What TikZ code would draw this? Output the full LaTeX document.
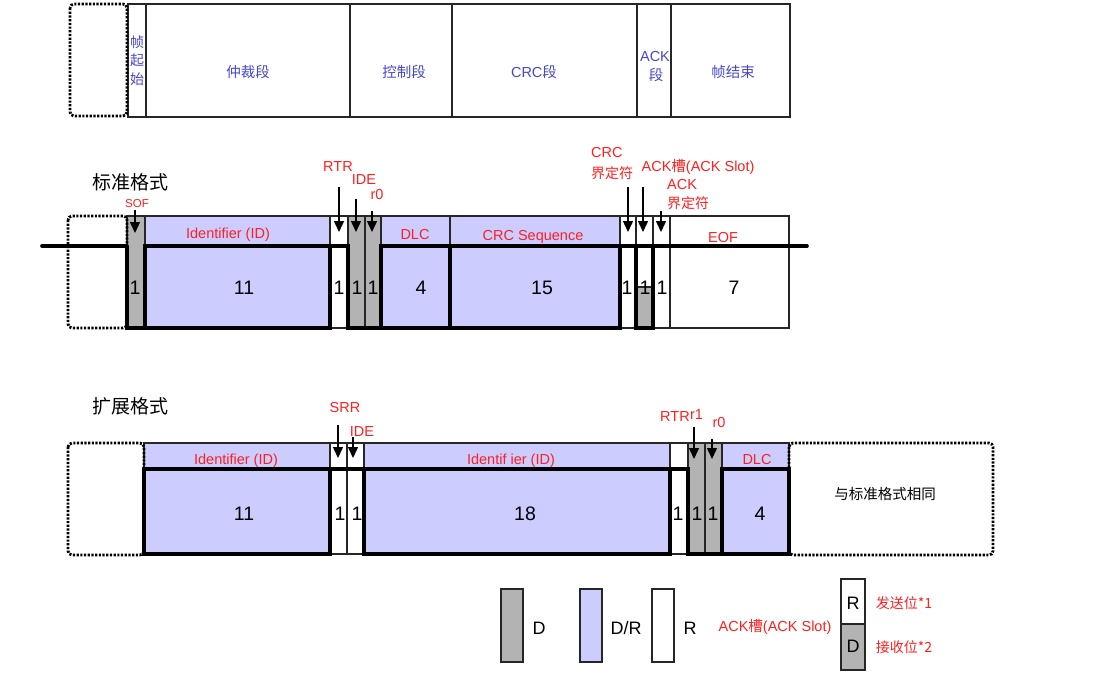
\documentclass[tikz,border=0pt]{standalone}
\usepackage{fontspec}
\setmainfont{Liberation Sans}
\newfontfamily\cjk{Noto Sans CJK SC}
\usetikzlibrary{arrows.meta}
\definecolor{dgray}{HTML}{B3B3B3}
\definecolor{lav}{HTML}{CCCCFF}
\definecolor{lbl}{HTML}{FF1F1F}
\definecolor{blu}{HTML}{4646C8}
\begin{document}
\begin{tikzpicture}[x=1pt,y=-1pt,
  thinb/.style={draw=black!85, line width=1.1pt},
  wave/.style={draw=black, line width=3.6pt, line join=miter},
  dashbox/.style={draw=black, line width=2.8pt, dash pattern=on 2.2pt off 1.5pt, rounded corners=4pt},
  darr/.style={draw=black, line width=1.4pt, -{Triangle[width=10pt,length=11pt]}},
  lab/.style={anchor=base, inner sep=0pt},
  redl/.style={lab, text=lbl, font=\fontsize{14.5}{16}\selectfont},
  reds/.style={lab, text=lbl, font=\fontsize{11.5}{13}\selectfont},
  bluel/.style={lab, text=blu, font=\cjk\fontsize{14.5}{17}\selectfont},
  bluelat/.style={lab, text=blu, font=\fontsize{14.5}{16}\selectfont},
  num/.style={lab, text=black, font=\fontsize{19.5}{21}\selectfont},
  ttl/.style={lab, text=black, font=\cjk\fontsize{19}{21}\selectfont},
]
\useasboundingbox (0,0) rectangle (1099,673);

% ---------------- top row ----------------
\draw[thinb] (128,4) rectangle (790,117);
\foreach \x in {146,350,452,637,671} \draw[thinb] (\x,4) -- (\x,117);
\draw[dashbox] (70,4) rectangle (127,116);
\node[bluel, font=\cjk\fontsize{14}{15}\selectfont] (t1a) at (137,47) {帧};
\node[bluel, font=\cjk\fontsize{14}{15}\selectfont] (t1b) at (137,65.5) {起};
\node[bluel, font=\cjk\fontsize{14}{15}\selectfont] (t1c) at (137,84) {始};
\node[bluel] (t2) at (248,77.5) {仲裁段};
\node[bluel] (t3) at (404,77.5) {控制段};
\node[bluel] (t4) at (534,77.5) {\fontspec{Liberation Sans}\fontsize{14.5}{16}\selectfont CRC\cjk 段};
\node[bluelat] (t5a) at (655,61) {ACK};
\node[bluel] (t5b) at (656,80.5) {段};
\node[bluel] (t6) at (733,77.5) {帧结束};

% ---------------- standard format ----------------
\node[ttl] (std) at (130,189) {标准格式};
\fill[dgray] (127,216) rectangle (145,328);
\fill[lav] (145,216) rectangle (330,328);
\fill[dgray] (348,216) rectangle (381,328);
\fill[lav] (381,216) rectangle (620,328);
\fill[dgray] (636,287) rectangle (653,328);
\draw[thinb] (127,216) rectangle (789,328);
\foreach \x in {145,330,348,365,381,450,620,636,653,670} \draw[thinb] (\x,216) -- (\x,328);
\draw[thinb] (636,287) -- (653,287);
\draw[dashbox] (68,216) rectangle (127,328);
\draw[wave, line cap=round] (42,246) -- (127,246);
\draw[wave] (127,246) -- (127,328) -- (145,328);
\draw[wave] (145,246) rectangle (330,328);
\draw[wave] (330,246) -- (348,246) -- (348,328) -- (381,328);
\draw[wave] (381,246) rectangle (450,328);
\draw[wave] (450,246) rectangle (620,328);
\draw[wave, line cap=round] (620,246) -- (807,246);
\draw[wave] (636,246) -- (636,328) -- (653,328) -- (653,246);

\node[reds] (sof) at (137,207) {SOF};
\node[redl] (rtr) at (338,171) {RTR};
\node[redl] (ide) at (364,184) {IDE};
\node[redl] (r0) at (377,199) {r0};
\node[redl] (idl) at (228,238) {Identifier (ID)};
\node[redl] (dlc) at (415,239) {DLC};
\node[redl] (crcs) at (533,240) {CRC Sequence};
\node[redl] (eof) at (723,242) {EOF};
\node[redl, anchor=base west] (crcd1) at (591,157) {CRC};
\node[redl, anchor=base west, font=\cjk\fontsize{14}{16}\selectfont] (crcd2) at (591,178.3) {界定符};
\node[redl] (acks) at (698,171) {ACK{\cjk 槽}(ACK Slot)};
\node[redl, anchor=base west] (ackd1) at (667,189) {ACK};
\node[redl, anchor=base west, font=\cjk\fontsize{14}{16}\selectfont] (ackd2) at (667,208.3) {界定符};

\foreach \n/\x/\ya/\yb in {sof/135/210/233, rtr/339/187/232, ide/356/199/232, rzero/372/211/232, crcd/628/187/232, acks/643/187/232, ackd/661/211/232}{
  \coordinate (\n A) at (\x,\ya); \coordinate (\n B) at (\x,\yb);
  \draw[darr] (\n A) -- (\n B);
}

\foreach \n/\x/\t in {s1/135/1, s2/244/11, s3/339/1, s4/357/1, s5/373/1, s6/421/4, s7/542/15, s8/627/1, s9/645/1, s10/662/1, s11/734/7}
  \node[num] (\n) at (\x,294) {\t};

% ---------------- extended format ----------------
\node[ttl] (ext) at (130,413) {扩展格式};
\fill[lav] (144,443) rectangle (330,554);
\fill[lav] (364,443) rectangle (670,554);
\fill[dgray] (688,443) rectangle (722,554);
\fill[lav] (722,443) rectangle (789,554);
\draw[thinb] (144,443) rectangle (789,554);
\foreach \x in {330,347,364,670,688,705,722} \draw[thinb] (\x,443) -- (\x,554);
\draw[dashbox] (68,443) rectangle (144,555);
\draw[dashbox] (789,443) rectangle (993,555);
\draw[wave] (144,469) rectangle (330,554);
\draw[wave] (330,469) -- (364,469);
\draw[wave] (364,469) rectangle (670,554);
\draw[wave] (670,469) -- (688,469) -- (688,554) -- (722,554);
\draw[wave] (722,469) rectangle (789,554);

\node[redl] (srr) at (345,412) {SRR};
\node[redl] (eide) at (362,436) {IDE};
\node[redl] (eidl1) at (236,464) {Identifier (ID)};
\node[redl] (eidl2) at (511,464) {Identif ier (ID)};
\node[redl] (ertr) at (675,421) {RTR};
\node[redl] (er1) at (696.5,419) {r1};
\node[redl] (er0) at (719,427) {r0};
\node[redl] (edlc) at (757,464) {DLC};
\node[lab, font=\cjk\fontsize{14.5}{17}\selectfont] (same) at (885,499.5) {与标准格式相同};

\foreach \n/\x/\ya/\yb in {esrr/338/425/458, eide/353/437/458, erone/694/427/459, erzero/712/439/459}{
  \coordinate (\n A) at (\x,\ya); \coordinate (\n B) at (\x,\yb);
  \draw[darr] (\n A) -- (\n B);
}

\foreach \n/\x/\t in {e1/244/11, e2/340/1, e3/357/1, e4/525/18, e5/678/1, e6/697/1, e7/713/1, e8/760/4}
  \node[num] (\n) at (\x,520) {\t};

% ---------------- legend ----------------
\draw[thinb, fill=dgray] (501,589) rectangle (523,662);
\node[lab, font=\fontsize{18}{20}\selectfont] (lgd) at (539,634.4) {D};
\draw[thinb, fill=lav] (580,589) rectangle (602,662);
\node[lab, font=\fontsize{18}{20}\selectfont] (lgdr) at (626,634.4) {D/R};
\draw[thinb, fill=white] (652,589) rectangle (674,662);
\node[lab, font=\fontsize{18}{20}\selectfont] (lgr) at (690,634.4) {R};
\node[redl] (lgack) at (775,631) {ACK{\cjk 槽}(ACK Slot)};
\fill[dgray] (841,624) rectangle (865,670);
\draw[draw=black!85, line width=1.8pt] (841,579) rectangle (865,670);
\draw[thinb] (841,624) -- (865,624);
\node[lab, font=\fontsize{18}{20}\selectfont] (lgsr) at (853,609.4) {R};
\node[lab, font=\fontsize{18}{20}\selectfont] (lgsd) at (853,652.4) {D};
\node[redl, font=\cjk\fontsize{14}{16}\selectfont] (lgtx) at (904,608.3) {发送位*1};
\node[redl, font=\cjk\fontsize{14}{16}\selectfont] (lgrx) at (904,652.3) {接收位*2};
\end{tikzpicture}
\end{document}
